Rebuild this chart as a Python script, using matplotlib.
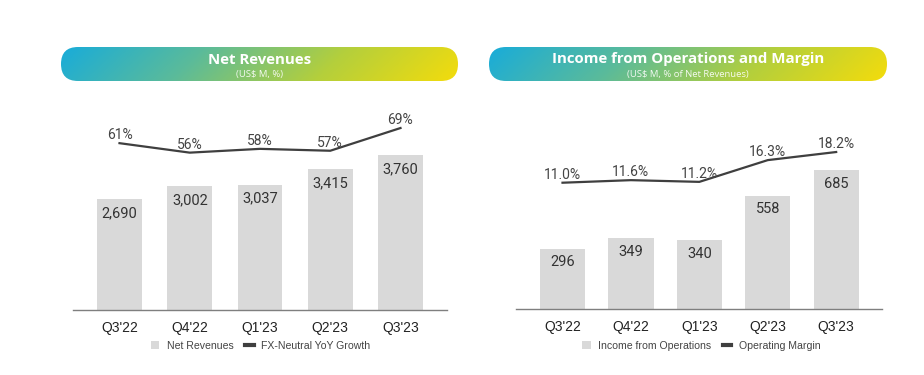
import numpy as np
import matplotlib
matplotlib.use("Agg")
from matplotlib import pyplot as plt
from matplotlib.patches import FancyBboxPatch, Patch
from matplotlib.lines import Line2D
from matplotlib.colors import LinearSegmentedColormap

quarters = ["Q3'22", "Q4'22", "Q1'23", "Q2'23", "Q3'23"]

net_revenues = [2690, 3002, 3037, 3415, 3760]
fx_neutral_growth = [61, 56, 58, 57, 69]

income_ops = [296, 349, 340, 558, 685]
op_margin = [11.0, 11.6, 11.2, 16.3, 18.2]

BAR_COLOR = "#d9d9d9"
LINE_COLOR = "#3f3f3f"
TEXT_COLOR = "#333333"
W, H = 924, 375

grad_cmap = LinearSegmentedColormap.from_list(
    "pill", ["#19acd9", "#5bbb9a", "#b4cf3c", "#f3dc0c"])


def fig_rect(x0, y0, x1, y1):
    # pixel box (top-left origin) -> figure fraction rect
    return [x0 / W, (H - y1) / H, (x1 - x0) / W, (y1 - y0) / H]


def draw_header(fig, px, title, subtitle):
    x0, y0, x1, y1 = px
    w, h = x1 - x0, y1 - y0
    ax = fig.add_axes(fig_rect(x0, y0, x1, y1))
    ax.set_xlim(0, w)
    ax.set_ylim(0, h)
    ax.axis("off")
    xx, yy = np.meshgrid(np.linspace(0, 1, 300), np.linspace(0, 1, 30))
    grad = np.clip(xx * 0.92 + (1 - yy) * 0.08, 0, 1)
    im = ax.imshow(grad, cmap=grad_cmap, extent=(0, w, 0, h), aspect="auto",
                   origin="lower")
    pill = FancyBboxPatch((0, 0), w, h, boxstyle=f"round,pad=0,rounding_size={h / 2}",
                          facecolor="none", edgecolor="none", transform=ax.transData)
    ax.add_patch(pill)
    im.set_clip_path(pill)
    ax.text(w / 2, h - 12.5, title, color="white", fontsize=10.8, fontweight="bold",
            family="Open Sans", ha="center", va="center")
    ax.text(w / 2, h - 27.5, subtitle, color="white", alpha=0.9, fontsize=6.8,
            family="Open Sans", ha="center", va="center")


def draw_panel(fig, px, xlim, bars, bar_max, line, line_lim, width,
               bar_fmt, pct_fmt, labels, legend_xy):
    ax = fig.add_axes(fig_rect(*px))
    x = np.arange(len(quarters))
    ax.bar(x, bars, width=width, color=BAR_COLOR, zorder=2)
    ax.set_xlim(*xlim)
    ax.set_ylim(0, bar_max)
    for s in ["top", "left", "right"]:
        ax.spines[s].set_visible(False)
    ax.spines["bottom"].set_color("#7f7f7f")
    ax.spines["bottom"].set_linewidth(1.0)
    ax.set_yticks([])
    ax.set_xticks(x)
    ax.set_xticklabels(quarters, fontsize=10, family="Liberation Sans", color="#222222")
    ax.tick_params(axis="x", length=0, pad=8)
    for xi, v in zip(x, bars):
        ax.annotate(bar_fmt(v), (xi, v), xytext=(0, -10), textcoords="offset points",
                    ha="center", va="center", fontsize=10.5, family="Roboto",
                    color=TEXT_COLOR)

    ax2 = ax.twinx()
    ax2.plot(x, line, color=LINE_COLOR, linewidth=1.6, zorder=3)
    ax2.set_ylim(*line_lim)
    ax2.set_yticks([])
    for s in ["top", "left", "right", "bottom"]:
        ax2.spines[s].set_visible(False)
    for xi, v in zip(x, line):
        ax2.annotate(pct_fmt(v), (xi, v), xytext=(0, 0.5), textcoords="offset points",
                     ha="center", va="bottom", fontsize=10, family="Roboto",
                     color="#444444")

    handles = [Patch(facecolor=BAR_COLOR, edgecolor="none"),
               Line2D([0], [0], color=LINE_COLOR, linewidth=3)]
    leg = ax2.legend(handles, labels, loc="center", bbox_to_anchor=legend_xy,
                     bbox_transform=fig.transFigure, ncol=2, frameon=False,
                     prop={"family": "Liberation Sans", "size": 7.6},
                     handlelength=0.8, handleheight=0.8, handletextpad=0.7,
                     columnspacing=1.1)
    for t in leg.get_texts():
        t.set_color("#444444")
    return ax


fig = plt.figure(figsize=(9.24, 3.75), dpi=100)
fig.patch.set_facecolor("white")

draw_header(fig, (61, 47, 458, 81), "Net Revenues", "(US$ M, %)")
draw_header(fig, (489, 47, 887, 81), "Income from Operations and Margin",
            "(US$ M, % of Net Revenues)")

draw_panel(fig, (73, 100, 447, 310), (-0.662, 4.662), net_revenues, 5097,
           fx_neutral_growth, (-27.1, 83.8), 0.64,
           lambda v: f"{v:,}", lambda v: f"{v:.0f}%",
           ["Net Revenues", "FX-Neutral YoY Growth"], (0.282, 0.078))

draw_panel(fig, (516, 100, 882, 308.5), (-0.68, 4.67), income_ops, 1030,
           op_margin, (-18.5, 30.4), 0.66,
           lambda v: f"{v:,}", lambda v: f"{v:.1f}%",
           ["Income from Operations", "Operating Margin"], (0.759, 0.078))

fig.savefig("out.png", dpi=100)
